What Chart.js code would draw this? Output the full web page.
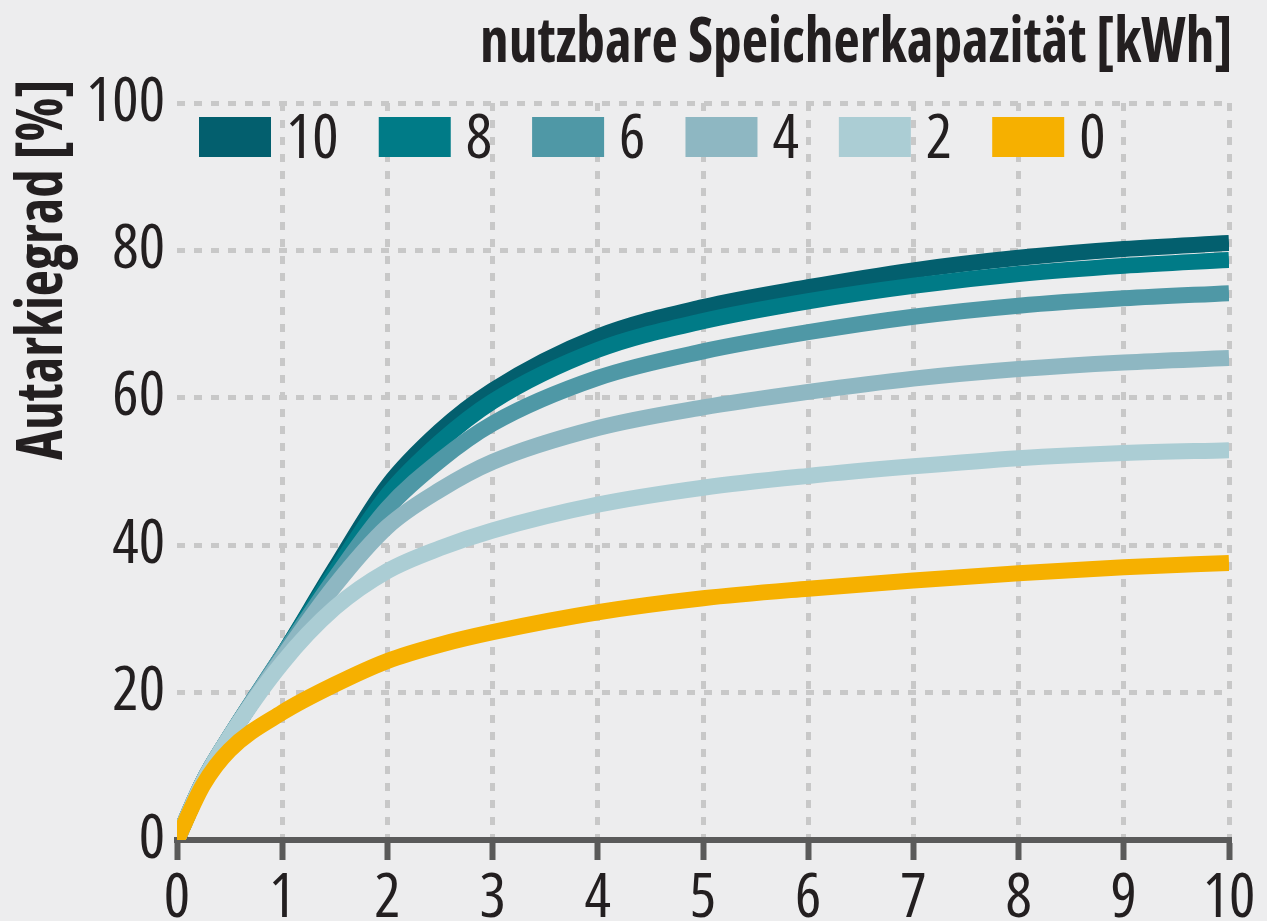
<!DOCTYPE html>
<html><head><meta charset="utf-8">
<script src="https://cdn.jsdelivr.net/npm/chart.js@4.4.1/dist/chart.umd.min.js"></script>
<style>html,body{margin:0;padding:0;background:#ededee;overflow:hidden}#wrap{width:1267px;height:921px}</style>
</head><body><div id="wrap"><canvas id="c" width="1267" height="921"></canvas></div>
<script>
// ---- data ----
const xValues = [0, 0.25, 0.5, 1, 1.5, 2, 2.5, 3, 4, 5, 6, 7, 8, 9, 10];
const cap10 = [0, 8, 14, 25, 36.8, 48, 55.5, 61, 68.3, 72.3, 75.0, 77.3, 79, 80.2, 81.0];
const cap8  = [0, 8, 14, 25, 36.3, 46.8, 54, 59.5, 66.5, 70.4, 73.1, 75.2, 76.8, 77.9, 78.7];
const cap6  = [0, 8, 14, 25, 35.5, 45, 51.5, 56.5, 62.7, 66.3, 68.9, 71, 72.5, 73.5, 74.2];
const cap4  = [0, 8, 14, 24.7, 34.5, 42.5, 47.5, 51.3, 55.9, 58.7, 60.8, 62.6, 63.9, 64.8, 65.4];
const cap2  = [0, 8, 14, 24, 31.5, 36.5, 39.6, 42, 45.5, 47.8, 49.4, 50.7, 51.8, 52.5, 52.9];
const cap0  = [0, 7.5, 12.2, 17.3, 21.1, 24.3, 26.5, 28.2, 30.9, 32.8, 34.1, 35.2, 36.2, 37, 37.6];
const seriesLabels = ['10', '8', '6', '4', '2', '0'];
const seriesValues = [cap10, cap8, cap6, cap4, cap2, cap0];
const seriesColors = ['#035f6e', '#007b87', '#4f98a6', '#8eb7c2', '#abcdd4', '#f6b000'];
const xTicks = [0, 1, 2, 3, 4, 5, 6, 7, 8, 9, 10];
const yTickLabels = [0, 20, 40, 60, 80, 100];
const chartTitle = 'nutzbare Speicherkapazität [kWh]';
const yTitle = 'Autarkiegrad [%]';

const FAMILY = '"Open Sans", "Roboto Condensed", sans-serif';
const TEXT = '#231f20';
const AXIS = '#5a5a5a';
const GRID = '#c8c8c8';

const datasets = seriesLabels.map((lab, i) => ({
  label: lab,
  data: xValues.map((x, j) => ({x: x, y: seriesValues[i][j]})),
  borderColor: seriesColors[i],
  backgroundColor: seriesColors[i],
  borderWidth: 16,
  pointRadius: 0,
  pointHoverRadius: 0,
  fill: false,
  cubicInterpolationMode: 'monotone',
  borderCapStyle: 'butt',
  borderJoinStyle: 'round',
  order: seriesLabels.length - 1 - i
}));

const bgPlugin = {
  id: 'bg',
  beforeDraw(chart) {
    const ctx = chart.ctx;
    ctx.save();
    ctx.fillStyle = '#ededee';
    ctx.fillRect(0, 0, chart.width, chart.height);
    ctx.restore();
  }
};

const textPlugin = {
  id: 'texts',
  afterDraw(chart) {
    const ctx = chart.ctx;
    const area = chart.chartArea;
    ctx.save();
    ctx.fillStyle = TEXT;
    // title
    ctx.font = 'bold condensed 62px ' + FAMILY;
    let w = ctx.measureText(chartTitle).width;
    ctx.save();
    ctx.translate(area.right + 3, 62);
    ctx.scale(Math.min(1.15, 752 / w), 1);
    ctx.textAlign = 'right';
    ctx.textBaseline = 'alphabetic';
    ctx.fillText(chartTitle, 0, 0);
    ctx.restore();
    // y title
    ctx.font = 'bold condensed 64px ' + FAMILY;
    w = ctx.measureText(yTitle).width;
    ctx.save();
    ctx.translate(62, 460);
    ctx.rotate(-Math.PI / 2);
    ctx.scale(Math.min(1.15, 380 / w), 1);
    ctx.textAlign = 'left';
    ctx.textBaseline = 'alphabetic';
    ctx.fillText(yTitle, 0, 0);
    ctx.restore();
    // legend
    ctx.font = 'condensed 62px ' + FAMILY;
    ctx.textBaseline = 'alphabetic';
    ctx.textAlign = 'left';
    let x = area.left + 22;
    const cy = 137, bw = 72, bh = 40;
    chart.data.datasets.forEach(ds => {
      ctx.fillStyle = ds.borderColor;
      ctx.fillRect(x, cy - bh / 2, bw, bh);
      x += bw + 15;
      ctx.fillStyle = TEXT;
      ctx.fillText(ds.label, x, 158);
      x += ctx.measureText(ds.label).width + 40;
    });
    ctx.restore();
  }
};

new Chart(document.getElementById('c'), {
  type: 'line',
  data: { datasets: datasets },
  options: {
    responsive: false,
    animation: false,
    devicePixelRatio: 1,
    layout: { padding: { top: 103, right: 38, left: 0, bottom: 0 } },
    plugins: { legend: { display: false }, tooltip: { enabled: false }, title: { display: false } },
    scales: {
      x: {
        type: 'linear', min: 0, max: 10,
        afterFit(s) { s.height = 81; },
        afterBuildTicks(s) { s.ticks = xTicks.map(v => ({value: v})); },
        ticks: { color: TEXT, font: { family: FAMILY, size: 62, weight: 'condensed' }, padding: 2, maxRotation: 0, autoSkip: false },
        grid: {
          color: ctx => (ctx.tick && ctx.tick.value === 0) ? 'rgba(0,0,0,0)' : GRID,
          lineWidth: 5, tickColor: AXIS, tickWidth: 6, tickLength: 20, tickBorderDash: []
        },
        border: { display: true, color: AXIS, width: 6, dash: [8, 9] }
      },
      y: {
        type: 'linear', min: 0, max: 100,
        afterFit(s) { s.width = 177; },
        ticks: {
          stepSize: 10, color: TEXT, font: { family: FAMILY, size: 62, weight: 'condensed' }, padding: 12,
          callback: v => yTickLabels.includes(v) ? String(v) : ''
        },
        grid: { color: GRID, lineWidth: 5, drawTicks: false },
        border: { display: false, dash: [8, 9] }
      }
    }
  },
  plugins: [bgPlugin, textPlugin]
});
</script></body></html>
